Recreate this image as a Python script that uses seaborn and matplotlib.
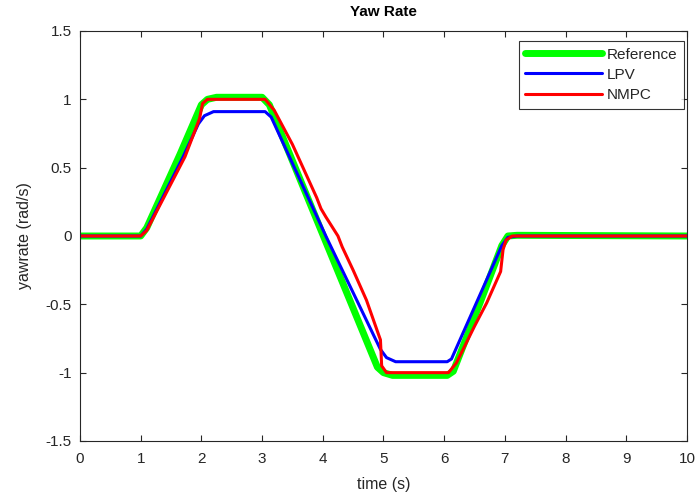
# Yaw rate tracking: Reference vs LPV vs NMPC

import pandas as pd
import numpy as np
import matplotlib.pyplot as plt
import seaborn as sns

# Reference (green)
ref_t = [0, 1.0, 1.1, 1.65, 2.0, 2.1, 2.25, 3.0, 3.12, 4.01, 4.9, 5.0, 5.15, 6.05, 6.15, 6.59, 6.95, 7.05, 7.2, 10]
ref_y = [0, 0, 0.06, 0.6, 0.96, 1.0, 1.015, 1.015, 0.96, 0.0, -0.96, -1.0, -1.02, -1.02, -0.99, -0.49, -0.07, 0.0, 0.005, 0.0]

# LPV (blue)
lpv_t = [0, 1.0, 1.1, 1.70, 1.95, 2.05, 2.2, 3.05, 3.15, 4.05, 4.56, 4.95, 5.05, 5.2, 6.05, 6.12, 6.53, 6.95, 7.05, 7.2, 10]
lpv_y = [0, 0, 0.05, 0.58, 0.82, 0.88, 0.91, 0.91, 0.87, 0.0, -0.47, -0.83, -0.89, -0.92, -0.92, -0.90, -0.49, -0.07, -0.01, 0.0, 0.0]

# NMPC (red)
nmpc_t = [0, 1.0, 1.1, 1.73, 1.92, 1.97, 2.02, 2.1, 3.05, 3.2, 3.5, 3.9, 3.97, 4.05, 4.25, 4.32, 4.5, 4.72, 4.91,
          4.95, 4.97, 5.05, 6.07, 6.2, 6.5, 6.70, 6.86, 6.93, 6.97, 7.02, 7.12, 10]
nmpc_y = [0, 0, 0.04, 0.58, 0.80, 0.86, 0.97, 1.0, 1.0, 0.92, 0.67, 0.28, 0.2, 0.14, 0.0, -0.08, -0.25, -0.47, -0.71,
          -0.76, -0.95, -1.0, -1.0, -0.93, -0.66, -0.49, -0.33, -0.26, -0.1, -0.03, 0.0, 0.0]

y_ticks = [-1.5, -1, -0.5, 0, 0.5, 1, 1.5]
y_labels = ['-1.5', '-1', '-0.5', '0', '0.5', '1', '1.5']
x_ticks = list(range(0, 11))

ref_df = pd.DataFrame({'time': ref_t, 'yawrate': ref_y})
lpv_df = pd.DataFrame({'time': lpv_t, 'yawrate': lpv_y})
nmpc_df = pd.DataFrame({'time': nmpc_t, 'yawrate': nmpc_y})

sns.set_theme(style = 'white')
plt.rcParams['font.family'] = ['Liberation Sans', 'DejaVu Sans']
plt.rcParams['axes.unicode_minus'] = False

fig = plt.figure(figsize = (6.98, 4.92), dpi = 100)
ax = fig.add_axes([0.1146, 0.1037, 0.8696, 0.8333])

sns.lineplot(ax = ax, data = ref_df, x = 'time', y = 'yawrate', sort = False, estimator = None,
             color = '#00ff00', linewidth = 5, label = 'Reference')
sns.lineplot(ax = ax, data = lpv_df, x = 'time', y = 'yawrate', sort = False, estimator = None,
             color = '#0000ff', linewidth = 2.2, label = 'LPV')
sns.lineplot(ax = ax, data = nmpc_df, x = 'time', y = 'yawrate', sort = False, estimator = None,
             color = '#ff0000', linewidth = 2.2, label = 'NMPC')

ax.set_xlim(0, 10)
ax.set_ylim(-1.5, 1.5)
ax.set_xticks(x_ticks)
ax.set_yticks(y_ticks)
ax.set_yticklabels(y_labels)

ax.set_title('Yaw Rate', fontsize = 11, fontweight = 'bold', color = '#000000', pad = 11)
ax.set_xlabel('time (s)', fontsize = 11.5, color = '#262626', labelpad = 8)
ax.set_ylabel('yawrate (rad/s)', fontsize = 11.5, color = '#262626', labelpad = 10)

ax.tick_params(direction = 'in', length = 4, width = 0.8, colors = '#262626', labelsize = 11,
               top = True, right = True, bottom = True, left = True)
ax.tick_params(axis = 'x', pad = 8)
ax.tick_params(axis = 'y', pad = 6)
for side in ax.spines.values():
    side.set_color('#262626')
    side.set_linewidth(0.8)

leg = ax.legend(loc = 'upper right', bbox_to_anchor = (0.995, 0.976), fontsize = 11, handlelength = 5.0,
                frameon = True, fancybox = False, edgecolor = '#000000', borderpad = 0.45,
                labelspacing = 0.4, handletextpad = 0.3, borderaxespad = 0)
leg.get_frame().set_linewidth(0.8)

fig.savefig('out.png', dpi = 100)
plt.close()
